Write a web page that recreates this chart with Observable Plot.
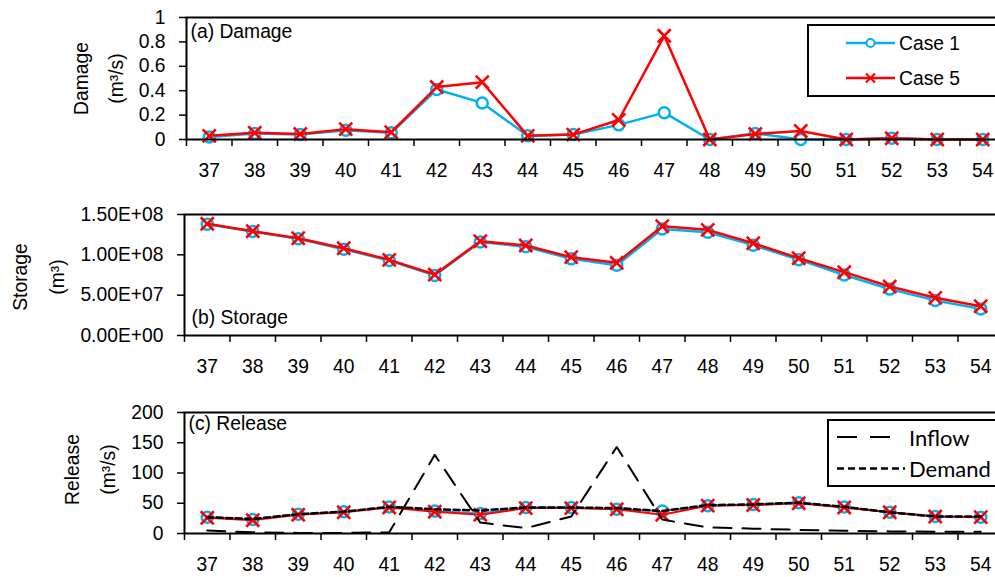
<!DOCTYPE html>
<html><head><meta charset="utf-8">
<script src="https://cdn.jsdelivr.net/npm/d3@7"></script>
<script src="https://cdn.jsdelivr.net/npm/@observablehq/plot@0.6"></script>
<style>
html,body{margin:0;padding:0;background:#fff;}
#wrap{position:relative;width:995px;height:577px;overflow:hidden;background:#fff;}
#wrap svg{position:absolute;left:0;}
</style></head><body><div id="wrap"></div>
<script>
const weeks = [37,38,39,40,41,42,43,44,45,46,47,48,49,50,51,52,53,54];

const damageCase1 = [0.02,0.05,0.04,0.075,0.055,0.41,0.30,0.03,0.04,0.12,0.22,0.00,0.05,0.00,0.00,0.01,0.00,0.00];
const damageCase5 = [0.03,0.055,0.045,0.085,0.06,0.43,0.47,0.03,0.04,0.16,0.85,0.00,0.045,0.07,0.00,0.01,0.00,0.00];

const storageCase1 = [1.38e8,1.29e8,1.20e8,1.07e8,0.93e8,0.745e8,1.16e8,1.10e8,0.95e8,0.87e8,1.32e8,1.28e8,1.12e8,0.94e8,0.75e8,0.575e8,0.435e8,0.33e8];
const storageCase5 = [1.385e8,1.293e8,1.206e8,1.082e8,0.938e8,0.756e8,1.169e8,1.116e8,0.971e8,0.901e8,1.355e8,1.31e8,1.144e8,0.958e8,0.785e8,0.607e8,0.467e8,0.363e8];

const releaseCase1 = [27,23,32,36,44,37,33,43,43,40,37,46,48,51,44,35,28,27];
const releaseCase5 = [26,22,31,35,43,36,31,42,42,40,31,46,47,50,43,35,28,27];
const inflow = [5,2,1,1,2,130,18,9,28,143,23,10,8,6,4.5,3.5,3,3];
const demand = [27,24,32,36,44,40,38,43,43,42,37,47,48,51,44,35,28,28];

const damageTicks = [0,0.2,0.4,0.6,0.8,1];
const storageTicks = [0,5e7,1e8,1.5e8];
const releaseTicks = [0,50,100,150,200];

const FONT = "Liberation Sans, Arial, sans-serif";
const FS = 19.3;
const BLUE = "#00B0F0", RED = "#FF0000";
const STEP = 45.5;
const bounds = [...weeks.map(w => w - 0.5), weeks[weeks.length - 1] + 0.5];

function expFmt(d) {
  const [m, e] = d.toExponential(2).split("e");
  return m + "E" + e[0] + e.slice(1).padStart(2, "0");
}

function makePanel(cfg) {
  const data = weeks.map((w, i) => ({week: w, c1: cfg.c1[i], c5: cfg.c5[i], inflow: cfg.inflow ? cfg.inflow[i] : null, demand: cfg.demand ? cfg.demand[i] : null}));
  const W = cfg.ml + STEP * weeks.length + 5;
  const lw = cfg.lw || 2.5;
  const marks = [
    Plot.line(data, {x: "week", y: "c1", stroke: BLUE, strokeWidth: lw}),
    Plot.dot(data, {x: "week", y: "c1", r: 5.5, stroke: BLUE, fill: "white", strokeWidth: 2.5}),
    Plot.line(data, {x: "week", y: "c5", stroke: RED, strokeWidth: lw}),
    Plot.dot(data, {x: "week", y: "c5", symbol: "times", r: 6, stroke: RED, strokeWidth: 2.6})
  ];
  if (cfg.inflow) {
    marks.push(Plot.line(data, {x: "week", y: "inflow", stroke: "black", strokeWidth: 2, strokeDasharray: "18,11"}));
    marks.push(Plot.line(data, {x: "week", y: "demand", stroke: "black", strokeWidth: 2.5, strokeDasharray: "6,3.5"}));
  }
  marks.push(
    Plot.frame({stroke: "black", strokeWidth: 2}),
    Plot.axisY({ticks: cfg.yTicks, tickSize: 7, tickPadding: 14, tickFormat: cfg.fmt, fontSize: FS, strokeWidth: 1.5, label: null}),
    Plot.axisX({ticks: bounds, tickSize: 7, tickFormat: () => "", strokeWidth: 1.5, label: null}),
    Plot.axisX({ticks: weeks, tickSize: 0, tickPadding: 24, tickFormat: d => String(d), fontSize: FS, label: null}),
    Plot.text([cfg.label], {frameAnchor: cfg.labelAnchor, dx: cfg.labelDx, dy: cfg.labelDy, textAnchor: "start", lineAnchor: "middle", fontSize: FS, fill: "black"}),
    Plot.text([cfg.title1], {frameAnchor: "left", dx: cfg.t1dx, dy: cfg.tdy, rotate: -90, textAnchor: "middle", lineAnchor: "middle", fontSize: FS, fill: "black"}),
    Plot.text([cfg.title2], {frameAnchor: "left", dx: cfg.t2dx, dy: cfg.tdy, rotate: -90, textAnchor: "middle", lineAnchor: "middle", fontSize: FS, fill: "black"})
  );
  const svg = Plot.plot({
    width: W, height: cfg.height,
    marginLeft: cfg.ml, marginRight: 5, marginTop: cfg.mt, marginBottom: cfg.mb,
    style: {fontFamily: FONT, fontSize: FS + "px", color: "#000", background: "transparent", maxWidth: "none"},
    x: {type: "linear", domain: [bounds[0], bounds[bounds.length - 1]]},
    y: {domain: cfg.yDomain},
    marks
  });
  svg.style.top = cfg.top + "px";
  document.getElementById("wrap").appendChild(svg);
}

makePanel({top: 0, height: 190, mt: 17, mb: 51, ml: 186, yDomain: [0, 1], yTicks: damageTicks,
  fmt: d => String(d), c1: damageCase1, c5: damageCase5,
  label: "(a) Damage", labelAnchor: "top-left", labelDx: 4, labelDy: 14.5,
  title1: "Damage", title2: "(m³/s)", t1dx: -105, t2dx: -70, tdy: 0});

makePanel({top: 190, height: 200, mt: 24, mb: 55, ml: 184, yDomain: [0, 1.5e8], yTicks: storageTicks,
  fmt: expFmt, c1: storageCase1, c5: storageCase5,
  label: "(b) Storage", labelAnchor: "bottom-left", labelDx: 7, labelDy: -17.3,
  title1: "Storage", title2: "(m³)", t1dx: -163.5, t2dx: -127, tdy: 2});

makePanel({top: 390, height: 187, mt: 22, mb: 44, ml: 184, yDomain: [0, 200], yTicks: releaseTicks,
  fmt: d => String(d), c1: releaseCase1, c5: releaseCase5, inflow: inflow, demand: demand, lw: 2,
  label: "(c) Release", labelAnchor: "top-left", labelDx: 4, labelDy: 11,
  title1: "Release", title2: "(m³/s)", t1dx: -111.5, t2dx: -76, tdy: -3.5});

// legends (overlay)
const ns = "http://www.w3.org/2000/svg";
const ov = document.createElementNS(ns, "svg");
ov.setAttribute("width", 995); ov.setAttribute("height", 577);
ov.style.top = "0px";
function el(tag, attrs, text) {
  const e = document.createElementNS(ns, tag);
  for (const k in attrs) e.setAttribute(k, attrs[k]);
  if (text != null) e.textContent = text;
  ov.appendChild(e); return e;
}
const seriesLegend = [{name: "Case 1", color: BLUE, sym: "circle"}, {name: "Case 5", color: RED, sym: "times"}];
const flowLegend = [{name: "Inflow", dash: "20,13", w: 2, x2: 893}, {name: "Demand", dash: "7,4", w: 2.5, x2: 905}];

el("rect", {x: 808, y: 25, width: 200, height: 71, fill: "white", stroke: "black", "stroke-width": 2});
seriesLegend.forEach((s, i) => {
  const y = 43 + i * 35;
  el("line", {x1: 846, x2: 895, y1: y, y2: y, stroke: s.color, "stroke-width": 2.5});
  if (s.sym === "circle") el("circle", {cx: 870.5, cy: y, r: 4, fill: "white", stroke: s.color, "stroke-width": 2});
  else el("path", {d: `M866,${y-4.5}L875,${y+4.5}M866,${y+4.5}L875,${y-4.5}`, stroke: s.color, "stroke-width": 2.2, fill: "none"});
  el("text", {x: 899, y: y, "dominant-baseline": "central", "font-family": FONT, "font-size": FS, fill: "black"}, s.name);
});

el("rect", {x: 828, y: 420, width: 200, height: 66, fill: "white", stroke: "black", "stroke-width": 2});
flowLegend.forEach((s, i) => {
  const y = 437 + i * 31.5;
  el("line", {x1: 837, x2: s.x2, y1: y, y2: y, stroke: "black", "stroke-width": s.w, "stroke-dasharray": s.dash});
  el("text", {x: 909, y: y, "dominant-baseline": "central", "font-family": "Lato, Open Sans, sans-serif", "font-size": 22, fill: "black"}, s.name);
});
document.getElementById("wrap").appendChild(ov);
</script>
</body></html>
